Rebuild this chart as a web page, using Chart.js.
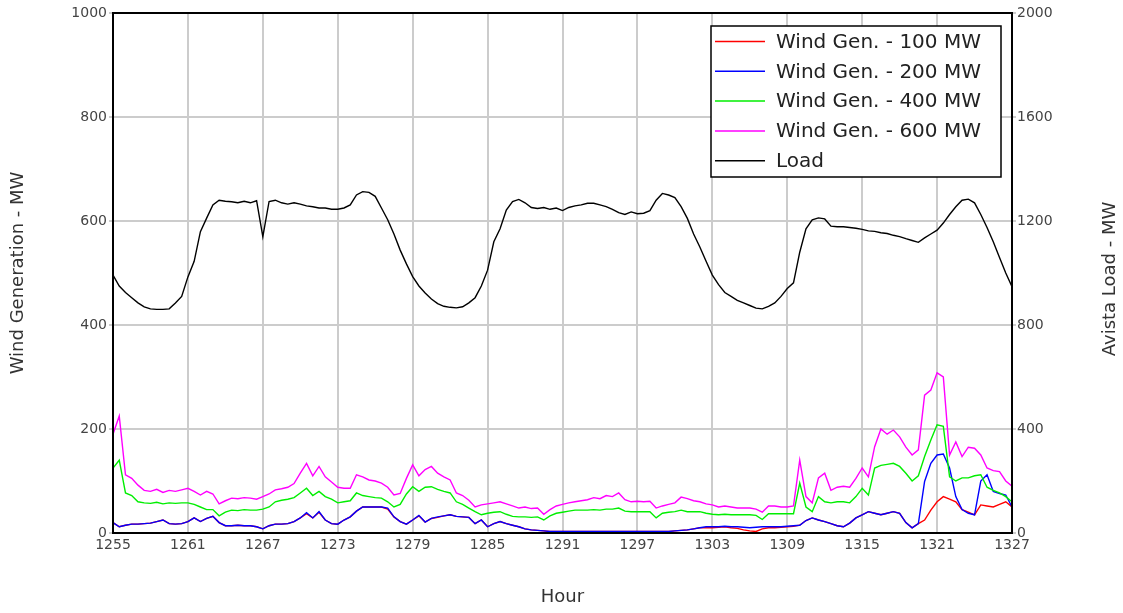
<!DOCTYPE html>
<html>
<head>
<meta charset="utf-8">
<script src="https://cdn.jsdelivr.net/npm/chart.js@4.4.1/dist/chart.umd.min.js"></script>
<style>
  html, body { margin: 0; padding: 0; background: #fff; }
</style>
</head>
<body>
<canvas id="chart" width="1123" height="613"></canvas>
<script>
// Datos (cada media hora, de 1255 a 1327)
const hours = [];
for (let h = 1255; h <= 1327; h += 0.5) hours.push(h);

const hourTicks = [1255, 1261, 1267, 1273, 1279, 1285, 1291, 1297, 1303, 1309, 1315, 1321, 1327];

const wind100 = [
  20, 12, 15, 17, 17, 18, 19, 22, 25, 18, 17, 18,
  22, 29, 22, 28, 32, 20, 14, 14, 15, 14, 14, 12,
  8, 14, 17, 17, 18, 22, 29, 37, 29, 40, 25, 18,
  17, 25, 31, 42, 50, 50, 50, 50, 46, 31, 22, 17,
  25, 33, 21, 28, 30, 33, 35, 32, 31, 30, 18, 25,
  12, 18, 22, 18, 15, 12, 8, 6, 5, 4, 3, 3,
  3, 3, 3, 3, 3, 3, 3, 3, 3, 3, 3, 3,
  3, 3, 3, 3, 3, 3, 4, 5, 6, 8, 10, 10,
  10, 11, 12, 10, 9, 6, 4, 3, 8, 10, 10, 11,
  12, 13, 15, 24, 29, 25, 22, 18, 14, 12, 19, 29,
  35, 41, 38, 35, 38, 41, 38, 20, 10, 18, 25, 44,
  60, 70, 65, 60, 45, 40, 35, 54, 52, 50, 55, 60,
  50
];

const wind200 = [
  20, 12, 15, 17, 17, 18, 19, 22, 25, 18, 17, 18,
  22, 29, 22, 28, 32, 20, 14, 14, 15, 14, 14, 12,
  8, 14, 17, 17, 18, 22, 29, 39, 29, 41, 25, 18,
  17, 25, 31, 42, 50, 50, 50, 50, 48, 31, 22, 17,
  25, 34, 21, 28, 31, 33, 35, 32, 31, 30, 18, 25,
  12, 18, 22, 18, 15, 12, 8, 6, 5, 4, 3, 3,
  3, 3, 3, 3, 3, 3, 3, 3, 3, 3, 3, 3,
  3, 3, 3, 3, 3, 3, 4, 5, 6, 8, 10, 12,
  12, 12, 13, 12, 12, 11, 10, 11, 12, 12, 12, 12,
  13, 14, 15, 24, 29, 25, 22, 18, 14, 12, 19, 29,
  35, 41, 38, 35, 38, 41, 38, 20, 10, 18, 99, 134,
  150, 152, 125, 70, 45, 38, 35, 100, 112, 80, 76, 73,
  50
];

const wind400 = [
  125, 140, 77, 72, 60, 58, 57, 59, 56, 58, 57, 58,
  58, 55, 50, 45, 45, 33, 40, 44, 43, 45, 44, 44,
  46, 50, 60, 63, 65, 68, 77, 86, 72, 80, 70, 65,
  58, 60, 62, 77, 72, 70, 68, 67, 60, 50, 55, 75,
  89, 80, 88, 89, 84, 80, 77, 60, 55, 48, 41, 35,
  38, 40, 41, 36, 32, 31, 31, 30, 31, 25, 33, 38,
  40, 42, 44, 44, 44, 45, 44, 46, 46, 48, 42, 41,
  41, 41, 41, 29, 38, 40, 41, 44, 41, 41, 41, 38,
  36, 35, 36, 35, 35, 35, 35, 34, 26, 37, 37, 37,
  37, 37, 96, 50, 41, 70, 60, 58, 60, 60, 58, 70,
  86, 73, 125, 130, 132, 134, 128, 115, 100, 110, 147, 179,
  208, 205, 108, 100, 106, 106, 110, 112, 88, 82, 77, 70,
  60
];

const wind600 = [
  190, 225, 112, 105, 92, 82, 80, 84, 78, 82, 80, 83,
  86, 80, 73, 80, 75, 56, 62, 67, 66, 68, 67, 65,
  70, 75, 83, 85, 88, 95, 115, 134, 110, 128, 108, 98,
  88, 86, 86, 112, 108, 102, 100, 96, 88, 73, 76, 105,
  131, 110, 122, 128, 115, 108, 102, 77, 72, 63, 50, 54,
  56, 58, 60, 56, 52, 48, 50, 47, 48, 36, 45, 52,
  55, 58, 60, 62, 64, 68, 66, 72, 70, 77, 64, 60,
  61, 60, 61, 48, 52, 55, 58, 69, 66, 62, 60, 56,
  54, 50, 52, 50, 48, 48, 48, 46, 40, 52, 52, 50,
  50, 52, 140, 70, 58, 106, 115, 82, 88, 90, 88, 105,
  125, 108, 166, 200, 190, 198, 185, 165, 150, 160, 265, 275,
  308, 300, 150, 175, 147, 165, 163, 150, 125, 120, 118, 100,
  90
];

const loadMW = [
  992, 950, 925, 905, 885, 870, 862, 860, 860, 862, 885, 910,
  985, 1045, 1159, 1211, 1262, 1280, 1276, 1274, 1270, 1276, 1270, 1278,
  1140, 1275, 1280, 1270, 1265, 1270, 1265, 1258, 1255, 1250, 1250, 1245,
  1245, 1250, 1262, 1300, 1313, 1310, 1295, 1250, 1205, 1150, 1088, 1035,
  986, 950, 923, 900, 882, 872, 868, 866, 870, 885, 905, 950,
  1011, 1120, 1170, 1242, 1275, 1283, 1270, 1252, 1248, 1252, 1245, 1250,
  1240, 1252, 1258, 1262, 1268, 1268, 1262, 1255, 1245, 1232, 1225, 1235,
  1228, 1230, 1240, 1280, 1306, 1300, 1290, 1255, 1210, 1150, 1100, 1045,
  992, 955, 925, 910, 895, 885, 875, 865, 862, 872, 885, 910,
  940, 962, 1080, 1170, 1204, 1212, 1208, 1180, 1178, 1178, 1175, 1172,
  1168, 1162, 1160, 1155, 1152, 1145, 1140, 1132, 1125, 1118, 1135, 1150,
  1165, 1192, 1225, 1255, 1280, 1284, 1270, 1225, 1175, 1120, 1060, 1000,
  947
];

const seriesNames = ['Wind Gen. - 100 MW', 'Wind Gen. - 200 MW', 'Wind Gen. - 400 MW', 'Wind Gen. - 600 MW', 'Load'];
const seriesColors = ['#ff0000', '#0000ff', '#00ee00', '#ff00ff', '#000000'];

const FONT = "'DejaVu Sans', sans-serif";
Chart.defaults.font.family = FONT;

// Pasar a puntos {x, y}
function toPoints(values) {
  return values.map((v, i) => ({ x: hours[i], y: v }));
}

function makeSet(idx, values, axis, order) {
  return {
    label: seriesNames[idx],
    data: toPoints(values),
    borderColor: seriesColors[idx],
    backgroundColor: seriesColors[idx],
    borderWidth: 1.4,
    pointRadius: 0,
    tension: 0,
    yAxisID: axis,
    order: order
  };
}

// Leyenda dentro del grafico, borde, y titulo del eje derecho
const extras = {
  id: 'extras',
  afterDraw(chart) {
    const ctx = chart.ctx;
    const a = chart.chartArea;
    ctx.save();

    // marco negro del area
    ctx.strokeStyle = '#000';
    ctx.lineWidth = 2;
    ctx.strokeRect(a.left, a.top, a.right - a.left, a.bottom - a.top);

    // titulo derecho (leido de abajo hacia arriba)
    ctx.fillStyle = '#333';
    ctx.font = '18px ' + FONT;
    ctx.textAlign = 'center';
    ctx.textBaseline = 'middle';
    ctx.translate(1110, (a.top + a.bottom) / 2 + 6);
    ctx.rotate(-Math.PI / 2);
    ctx.fillText('Avista Load - MW', 0, 0);
    ctx.setTransform(1, 0, 0, 1, 0, 0);

    // leyenda
    const bx = a.right - 301, by = a.top + 13, bw = 290, bh = 151;
    ctx.fillStyle = '#fff';
    ctx.fillRect(bx, by, bw, bh);
    ctx.strokeStyle = '#000';
    ctx.lineWidth = 1.5;
    ctx.strokeRect(bx, by, bw, bh);
    ctx.font = '20px ' + FONT;
    ctx.textAlign = 'left';
    ctx.textBaseline = 'middle';
    seriesNames.forEach((name, i) => {
      const y = by + 15.5 + i * 29.8;
      ctx.strokeStyle = seriesColors[i];
      ctx.lineWidth = 1.5;
      ctx.beginPath();
      ctx.moveTo(bx + 4, y);
      ctx.lineTo(bx + 54, y);
      ctx.stroke();
      ctx.fillStyle = '#222';
      ctx.fillText(name, bx + 65, y + 1);
    });
    ctx.restore();
  }
};

new Chart(document.getElementById('chart'), {
  type: 'line',
  data: {
    datasets: [
      makeSet(0, wind100, 'y', 5),
      makeSet(1, wind200, 'y', 4),
      makeSet(2, wind400, 'y', 3),
      makeSet(3, wind600, 'y', 2),
      makeSet(4, loadMW, 'y2', 1)
    ]
  },
  options: {
    responsive: false,
    animation: false,
    devicePixelRatio: 1,
    layout: { padding: { top: 13, left: 0, right: 0, bottom: 0 } },
    plugins: {
      legend: { display: false },
      tooltip: { enabled: false }
    },
    scales: {
      x: {
        type: 'linear',
        min: 1255,
        max: 1327,
        afterBuildTicks: s => { s.ticks = hourTicks.map(v => ({ value: v })); },
        afterFit: s => { s.height = 80; },
        ticks: {
          color: '#444',
          font: { size: 14 },
          padding: 4,
          maxRotation: 0,
          callback: v => String(v)
        },
        grid: { color: '#cccccc', lineWidth: 2, drawTicks: false },
        border: { display: false },
        title: {
          display: true,
          text: 'Hour',
          color: '#333',
          font: { size: 18 },
          padding: { top: 0, bottom: 5 }
        }
      },
      y: {
        position: 'left',
        min: 0,
        max: 1000,
        afterFit: s => { s.width = 113; },
        ticks: { stepSize: 200, color: '#444', font: { size: 14 }, padding: 2, callback: v => String(v) },
        grid: { color: '#cccccc', lineWidth: 2, tickLength: 4, tickColor: '#cccccc' },
        border: { display: false },
        title: {
          display: true,
          text: 'Wind Generation - MW',
          color: '#333',
          font: { size: 18 },
          padding: { top: 8, bottom: 0 }
        }
      },
      y2: {
        position: 'right',
        min: 0,
        max: 2000,
        afterFit: s => { s.width = 111; },
        ticks: { stepSize: 400, color: '#444', font: { size: 14 }, padding: 1, callback: v => String(v) },
        grid: { drawOnChartArea: false, color: '#cccccc', lineWidth: 2, tickLength: 4 },
        border: { display: false }
      }
    }
  },
  plugins: [extras]
});
</script>
</body>
</html>
